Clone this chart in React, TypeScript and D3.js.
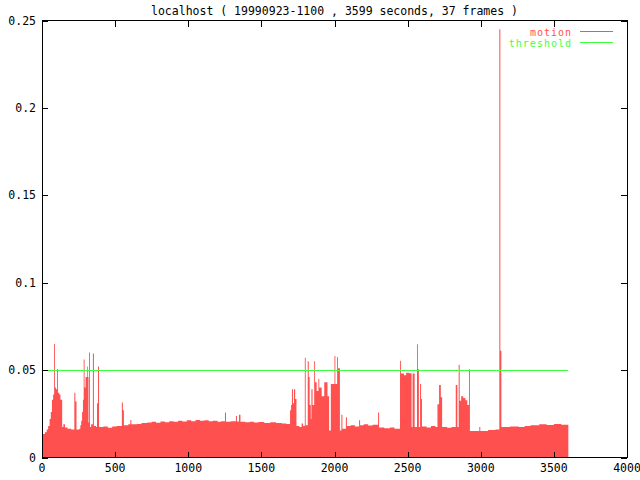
import React from 'react';
import * as d3 from 'd3';

const title = 'localhost ( 19990923-1100 , 3599 seconds, 37 frames )';
const seriesNames = ['motion', 'threshold'];

// [seconds, motion] knots, each value holds until the next knot
const motion: [number, number][] = [
  [0, 0.0135], [20, 0.0145], [32, 0.016], [42, 0.018], [52, 0.022], [60, 0.026],
  [68, 0.033], [76, 0.036], [83, 0.065], [89, 0.04], [96, 0.039], [103, 0.0507],
  [109, 0.037], [118, 0.036], [126, 0.033], [138, 0.0175], [146, 0.019], [157, 0.0172],
  [175, 0.0165], [200, 0.016], [221, 0.037], [228, 0.032], [236, 0.016], [255, 0.0165],
  [262, 0.0185], [268, 0.021], [274, 0.026], [280, 0.033], [285, 0.056], [291, 0.04],
  [298, 0.046], [308, 0.052], [313, 0.046], [318, 0.02], [322, 0.06], [328, 0.0175],
  [336, 0.019], [348, 0.0595], [355, 0.018], [370, 0.0175], [376, 0.031], [383, 0.052],
  [390, 0.0175], [420, 0.0178], [450, 0.017], [480, 0.0178], [510, 0.018], [546, 0.0314],
  [553, 0.027], [560, 0.0185], [590, 0.019], [604, 0.0215], [611, 0.019], [650, 0.0192],
  [680, 0.0198], [720, 0.02], [750, 0.0204], [780, 0.0199], [810, 0.0206], [840, 0.0202],
  [870, 0.0208], [900, 0.0204], [930, 0.021], [960, 0.0206], [990, 0.0213], [1020, 0.0208],
  [1050, 0.0215], [1080, 0.021], [1110, 0.0213], [1140, 0.0207], [1170, 0.021], [1200, 0.0204],
  [1225, 0.0207], [1251, 0.0257], [1258, 0.0205], [1290, 0.0208], [1326, 0.0238], [1333, 0.0206],
  [1347, 0.0245], [1357, 0.0205], [1390, 0.0202], [1420, 0.0205], [1450, 0.02], [1480, 0.0203],
  [1520, 0.0198], [1560, 0.0201], [1600, 0.0197], [1640, 0.0195], [1670, 0.0192], [1696, 0.027],
  [1703, 0.03], [1709, 0.039], [1716, 0.031], [1723, 0.039], [1731, 0.0335], [1740, 0.018],
  [1760, 0.0175], [1775, 0.0195], [1785, 0.018], [1797, 0.057], [1803, 0.0185], [1817, 0.055],
  [1824, 0.046], [1830, 0.03], [1838, 0.022], [1842, 0.039], [1850, 0.03], [1861, 0.055],
  [1867, 0.043], [1878, 0.038], [1890, 0.045], [1896, 0.04], [1912, 0.035], [1930, 0.043],
  [1952, 0.035], [1963, 0.0155], [1975, 0.042], [2000, 0.058], [2006, 0.042], [2018, 0.0575],
  [2024, 0.051], [2037, 0.0155], [2047, 0.0244], [2054, 0.0165], [2078, 0.023], [2085, 0.018],
  [2110, 0.0185], [2140, 0.0178], [2168, 0.0213], [2175, 0.0185], [2200, 0.019], [2230, 0.0183],
  [2260, 0.0188], [2298, 0.0257], [2305, 0.0172], [2340, 0.0168], [2380, 0.0172], [2410, 0.0165],
  [2448, 0.0554], [2454, 0.048], [2475, 0.047], [2490, 0.0485], [2510, 0.0482], [2527, 0.0175],
  [2534, 0.048], [2548, 0.0175], [2564, 0.0648], [2570, 0.0505], [2577, 0.0175], [2585, 0.042],
  [2592, 0.0335], [2598, 0.0178], [2630, 0.0172], [2660, 0.018], [2690, 0.0175], [2704, 0.0305],
  [2715, 0.0415], [2727, 0.0345], [2736, 0.0175], [2770, 0.017], [2800, 0.0175], [2829, 0.0415],
  [2840, 0.0175], [2849, 0.053], [2856, 0.0325], [2866, 0.035], [2880, 0.034], [2895, 0.0327],
  [2908, 0.03], [2920, 0.0505], [2926, 0.0152], [2990, 0.0175], [2997, 0.0152], [3050, 0.0158],
  [3100, 0.016], [3127, 0.245], [3134, 0.061], [3141, 0.0175], [3200, 0.0178], [3260, 0.0175],
  [3300, 0.018], [3340, 0.0185], [3400, 0.019], [3450, 0.0186], [3500, 0.0192], [3550, 0.0188],
  [3599, 0.019],
];

const threshold = 0.05;
const duration = 3599;

const xTicks = [0, 500, 1000, 1500, 2000, 2500, 3000, 3500, 4000];
const yTicks = [0, 0.05, 0.1, 0.15, 0.2, 0.25];
const yTickLabels = ['0', '0.05', '0.1', '0.15', '0.2', '0.25'];

const W = 640;
const H = 480;
const left = 42;
const right = 627;
const top = 20.5;
const bottom = 457.5;
const font = '"DejaVu Sans Mono", "Liberation Mono", monospace';
const red = '#ff5050';
const green = '#40ff40';

export default function App() {
  const x = d3.scaleLinear().domain([0, 4000]).range([left, right]);
  const y = d3.scaleLinear().domain([0, 0.25]).range([bottom, top]);

  const area = d3
    .area<[number, number]>()
    .x((d) => x(d[0]))
    .y0(y(0))
    .y1((d) => y(d[1]))
    .curve(d3.curveStepAfter);

  const line = d3.line<[number, number]>().x((d) => x(d[0])).y((d) => y(d[1]));
  const thresholdLine: [number, number][] = [[0, threshold], [duration, threshold]];

  const tick = 6;

  return (
    <svg width={W} height={H} style={{ position: 'absolute', left: 0, top: 0, background: '#fff' }}>
      <text x={(left + right) / 2} y={15} textAnchor="middle" fontFamily={font} fontSize={11.5} fill="#000">
        {title}
      </text>

      <path d={area(motion) ?? ''} fill={red} />
      <path d={line(thresholdLine) ?? ''} stroke={green} strokeWidth={1} fill="none" shapeRendering="crispEdges" />

      <g shapeRendering="crispEdges" stroke="#000" strokeWidth={1}>
        <rect x={left} y={top} width={right - left} height={bottom - top} fill="none" />
        {xTicks.map((t) => (
          <g key={'x' + t}>
            <line x1={Math.round(x(t)) + 0.5} x2={Math.round(x(t)) + 0.5} y1={bottom} y2={bottom - tick} />
            <line x1={Math.round(x(t)) + 0.5} x2={Math.round(x(t)) + 0.5} y1={top} y2={top + tick} />
          </g>
        ))}
        {yTicks.map((t) => (
          <g key={'y' + t}>
            <line x1={left} x2={left + tick} y1={Math.round(y(t)) + 0.5} y2={Math.round(y(t)) + 0.5} />
            <line x1={right} x2={right - tick} y1={Math.round(y(t)) + 0.5} y2={Math.round(y(t)) + 0.5} />
          </g>
        ))}
      </g>

      {xTicks.map((t) => (
        <text key={'xl' + t} x={x(t)} y={472} textAnchor="middle" fontFamily={font} fontSize={11.5} fill="#000">
          {t}
        </text>
      ))}
      {yTicks.map((t, i) => (
        <text key={'yl' + t} x={36} y={y(t) + 4} textAnchor="end" fontFamily={font} fontSize={11.5} fill="#000">
          {yTickLabels[i]}
        </text>
      ))}

      <text x={572} y={35.5} textAnchor="end" fontFamily={font} fontSize={10} letterSpacing={1} fill={red}>
        {seriesNames[0]}
      </text>
      <line x1={580} x2={613} y1={31.5} y2={31.5} stroke={red} shapeRendering="crispEdges" />
      <text x={572} y={46.5} textAnchor="end" fontFamily={font} fontSize={10} letterSpacing={1} fill={green}>
        {seriesNames[1]}
      </text>
      <line x1={580} x2={613} y1={42.5} y2={42.5} stroke={green} shapeRendering="crispEdges" />
    </svg>
  );
}
